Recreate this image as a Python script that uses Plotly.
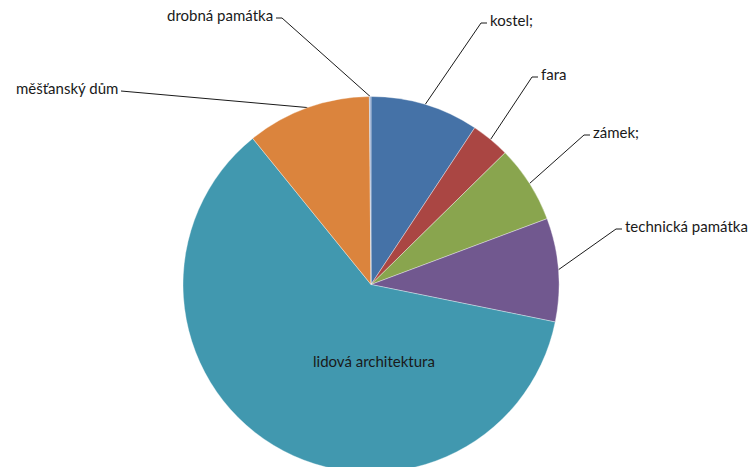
import math
import plotly.graph_objects as go

# ---- data ----
categories = ["kostel;", "fara", "zámek;", "technická památka",
              "lidová architektura", "měšťanský dům", "drobná památka"]
values = [67, 24, 48, 64, 439, 77, 1]
colors = ["#4572A7", "#AA4643", "#89A54E", "#71588F", "#4198AF", "#DB843D", "#93A9CF"]

# ---- layout (pixels) ----
W, H = 751, 480
CX, CY, R = 371, 284.5, 188
# label elbow positions (pixels) for outside labels; None => inside label
label_pos = [(481, 23), (532, 77), (584, 135), (616, 229), None, (127, 91), (282, 18)]
stub = 6
inside_label = (374, 361)

fig = go.Figure()
fig.add_trace(go.Pie(
    labels=categories, values=values, sort=False, direction="clockwise", rotation=0,
    marker=dict(colors=colors, line=dict(color="rgba(255,255,255,0.6)", width=0.6)),
    textinfo="none", hoverinfo="label+value+percent", showlegend=False,
    domain=dict(x=[(CX - R) / W, (CX + R) / W], y=[(H - CY - R) / H, (H - CY + R) / H]),
))

total = sum(values)
cum = 0.0
annotations = []
for cat, v, pos in zip(categories, values, label_pos):
    mid = (cum + v / 2) / total * 2 * math.pi
    cum += v
    sx = CX + R * math.sin(mid)
    sy = CY - R * math.cos(mid)
    if pos is None:
        annotations.append(dict(x=inside_label[0], y=inside_label[1], xref="x", yref="y", text=cat,
                                showarrow=False, xanchor="center", yanchor="middle"))
        continue
    ex, ey = pos
    right = ex > CX
    tx = ex + stub if right else ex - stub
    fig.add_trace(go.Scatter(x=[sx, ex, tx], y=[sy, ey, ey], mode="lines",
                             line=dict(color="#1a1a1a", width=1), hoverinfo="skip", showlegend=False))
    annotations.append(dict(x=tx + (1 if right else -1), y=ey - 3, xref="x", yref="y", text=cat,
                            showarrow=False, xanchor="left" if right else "right", yanchor="middle"))

fig.update_layout(
    width=W, height=H, margin=dict(l=0, r=0, t=0, b=0),
    paper_bgcolor="white", plot_bgcolor="rgba(0,0,0,0)",
    font=dict(family="Lato, Carlito, sans-serif", size=15, color="#1a1a1a"),
    xaxis=dict(range=[0, W], visible=False, fixedrange=True),
    yaxis=dict(range=[H, 0], visible=False, fixedrange=True),
    annotations=annotations,
)

fig.write_html("out.html", config={"displayModeBar": False}, post_script=(
    "document.documentElement.style.overflow='hidden';"
    "document.body.style.overflow='hidden';document.body.style.margin='0';"
))
